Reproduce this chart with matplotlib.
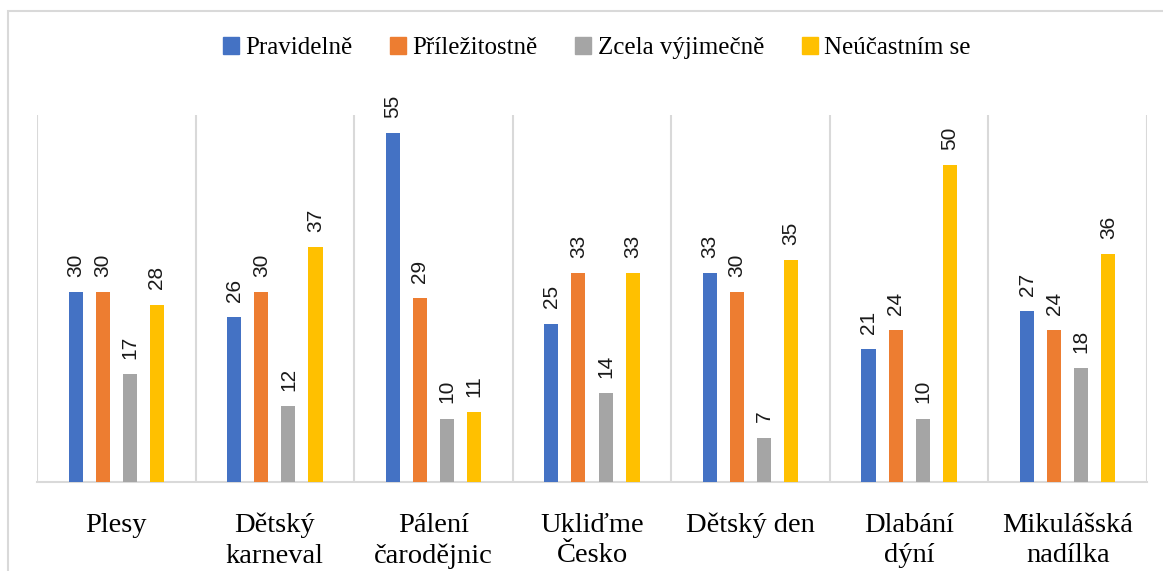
import numpy as np
import matplotlib
matplotlib.use('Agg')
import matplotlib.pyplot as plt
from matplotlib.patches import Patch, Rectangle

categories = ['Plesy', 'Dětský\nkarneval', 'Pálení\nčarodějnic', 'Ukliďme\nČesko',
              'Dětský den', 'Dlabání\ndýní', 'Mikulášská\nnadílka']
series_names = ['Pravidelně', 'Příležitostně', 'Zcela výjimečně', 'Neúčastním se']
pravidelne = [30, 26, 55, 25, 33, 21, 27]
prilezitostne = [30, 30, 29, 33, 30, 24, 24]
vyjimecne = [17, 12, 10, 14, 7, 10, 18]
neucastnim = [28, 37, 11, 33, 35, 50, 36]
colors = ['#4472C4', '#ED7D31', '#A5A5A5', '#FFC000']

grid_c = '#D9D9D9'
W, H = 1163, 571

fig = plt.figure(figsize=(W / 100, H / 100), dpi=100)
ax = fig.add_axes([37 / W, (H - 482) / H, (1147 - 37) / W, (482 - 115) / H])

x = np.arange(len(categories))
bw = 0.089
step = 0.171
values = [pravidelne, prilezitostne, vyjimecne, neucastnim]
for i, (vals, c) in enumerate(zip(values, colors)):
    pos = x + (i - 1.5) * step
    ax.bar(pos, vals, width=bw, color=c, zorder=3)
    for px, v in zip(pos, vals):
        ax.annotate(str(v), (px, v), xytext=(0, 11), textcoords='offset points',
                    rotation=90, ha='center', va='bottom',
                    fontsize=15, family='Liberation Sans', color='#1a1a1a')

ax.set_xlim(-0.5, len(categories) - 0.5)
ax.set_ylim(0, 57.9)
for b in np.arange(-0.5, len(categories)):
    ax.axvline(b, color=grid_c, lw=1.5, zorder=1)
for s in ['top', 'left', 'right']:
    ax.spines[s].set_visible(False)
ax.spines['bottom'].set_color(grid_c)
ax.spines['bottom'].set_linewidth(1.5)
ax.set_yticks([])
ax.set_xticks(x)
ax.set_xticklabels(categories, fontsize=20.5, family='Liberation Serif',
                   linespacing=1.3, va='top')
ax.tick_params(axis='x', length=0, pad=22)

handles = [Patch(color=c) for c in colors]
fig.legend(handles, series_names, loc='center', bbox_to_anchor=(0.513, 0.916),
           ncol=4, frameon=False, handlelength=0.65, handleheight=0.65,
           handletextpad=0.25, columnspacing=1.5,
           prop={'family': 'Liberation Serif', 'size': 18})

fig.patches.append(Rectangle((7.5 / W, -0.1), 1.2, 1.1 - 10.5 / H, transform=fig.transFigure,
                             fill=False, edgecolor=grid_c, lw=1.5))

fig.savefig('out.png', dpi=100)
